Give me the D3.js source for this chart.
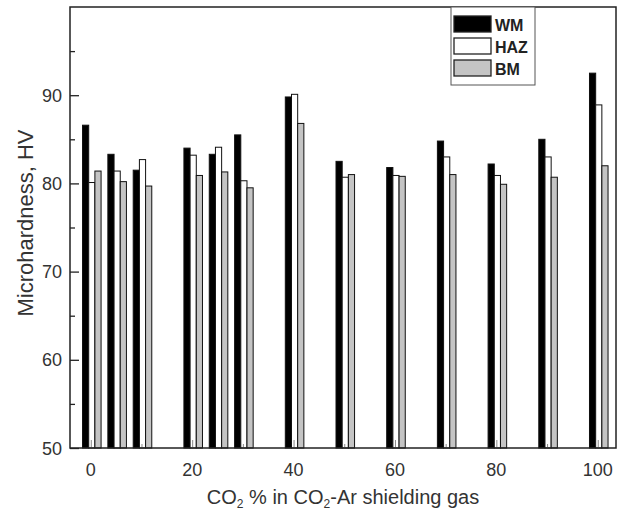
<!DOCTYPE html>
<html><head><meta charset="utf-8">
<script src="https://cdn.jsdelivr.net/npm/d3@7"></script>
<style>body{margin:0;background:#fff}svg{display:block}text{font-family:"Liberation Sans",Arial,sans-serif}</style>
</head><body><svg id="c" width="618" height="512"></svg>
<script>
const co2 = [0, 5, 10, 20, 25, 30, 40, 50, 60, 70, 80, 90, 100];
const WM  = [86.6, 83.3, 81.5, 84.0, 83.3, 85.5, 89.8, 82.5, 81.8, 84.8, 82.2, 85.0, 92.5];
const HAZ = [80.1, 81.4, 82.7, 83.2, 84.1, 80.3, 90.1, 80.7, 80.9, 83.0, 80.9, 83.0, 88.9];
const BM  = [81.4, 80.2, 79.7, 80.9, 81.3, 79.5, 86.8, 81.0, 80.8, 81.0, 79.9, 80.7, 82.0];
const seriesNames = ["WM", "HAZ", "BM"];
const seriesFill = ["#000000", "#ffffff", "#c4c4c4"];
const xTicks = [0, 20, 40, 60, 80, 100];
const xMinor = [10, 30, 50, 70, 90];
const yTicks = [50, 60, 70, 80, 90];
const yMinor = [55, 65, 75, 85, 95];

const svg = d3.select("#c");
const L = 70, R = 616, T = 7, B = 448;
const x = d3.scaleLinear().domain([-4.1, 103.6]).range([L, R]);
const y = d3.scaleLinear().domain([50, 100]).range([B, T]);
const bw = 1.22;
const data = [WM, HAZ, BM];

const g = svg.append("g");
data.forEach((vals, s) => {
  g.selectAll(null).data(co2).enter().append("rect")
    .attr("x", (d, i) => x(d + (s - 1) * bw - bw / 2 + 0.2))
    .attr("width", x(bw) - x(0))
    .attr("y", (d, i) => y(vals[i]))
    .attr("height", (d, i) => B - y(vals[i]))
    .attr("fill", seriesFill[s])
    .attr("stroke", "#111").attr("stroke-width", 1);
});

// ticks inward
svg.append("g").attr("transform", `translate(${L},0)`).call(d3.axisRight(y).tickValues(yTicks).tickSize(9).tickFormat(""))
  .call(a => a.select(".domain").remove()).selectAll("line").attr("stroke", "#222").attr("stroke-width", 1.3);
svg.append("g").attr("transform", `translate(${L},0)`).call(d3.axisRight(y).tickValues(yMinor).tickSize(5).tickFormat(""))
  .call(a => a.select(".domain").remove()).selectAll("line").attr("stroke", "#222").attr("stroke-width", 1.3);
svg.append("g").attr("transform", `translate(0,${B})`).call(d3.axisTop(x).tickValues(xTicks).tickSize(8).tickFormat(""))
  .call(a => a.select(".domain").remove()).selectAll("line").attr("stroke", "#888").attr("stroke-width", 1);
svg.append("g").attr("transform", `translate(0,${B})`).call(d3.axisTop(x).tickValues(xMinor).tickSize(4).tickFormat(""))
  .call(a => a.select(".domain").remove()).selectAll("line").attr("stroke", "#888").attr("stroke-width", 1);

// frame
svg.append("rect").attr("x", L).attr("y", T).attr("width", R - L).attr("height", B - T)
  .attr("fill", "none").attr("stroke", "#222").attr("stroke-width", 1.5);

// tick labels
svg.append("g").selectAll("text").data(yTicks).enter().append("text")
  .attr("x", 62).attr("y", d => y(d) + 6.5).attr("text-anchor", "end")
  .attr("font-size", 18).attr("fill", "#333").text(d => d);
svg.append("g").selectAll("text").data(xTicks).enter().append("text")
  .attr("x", d => x(d)).attr("y", 476).attr("text-anchor", "middle")
  .attr("font-size", 18).attr("fill", "#333").text(d => d);

// axis titles
svg.append("text").attr("transform", "translate(33,223) rotate(-90)").attr("text-anchor", "middle")
  .attr("font-size", 22).attr("fill", "#333").text("Microhardness, HV");
const xt = svg.append("text").attr("x", 343).attr("y", 504).attr("text-anchor", "middle")
  .attr("font-size", 20).attr("fill", "#333");
xt.append("tspan").text("CO");
xt.append("tspan").attr("font-size", 12).attr("dy", 4).text("2");
xt.append("tspan").attr("dy", -4).text(" % in CO");
xt.append("tspan").attr("font-size", 12).attr("dy", 4).text("2");
xt.append("tspan").attr("dy", -4).text("-Ar shielding gas");

// legend
svg.append("rect").attr("x", 451).attr("y", 7).attr("width", 84).attr("height", 78)
  .attr("fill", "#fff").attr("stroke", "#555").attr("stroke-width", 1);
const lg = svg.append("g").selectAll("g").data(seriesNames).enter().append("g")
  .attr("transform", (d, i) => `translate(454,${16 + i * 22})`);
lg.append("rect").attr("width", 37).attr("height", 16).attr("fill", (d, i) => seriesFill[i])
  .attr("stroke", "#222").attr("stroke-width", 1.3);
lg.append("text").attr("x", 41).attr("y", 14.5).attr("font-size", 16).attr("font-weight", "bold")
  .attr("fill", "#222").text(d => d);
</script></body></html>
